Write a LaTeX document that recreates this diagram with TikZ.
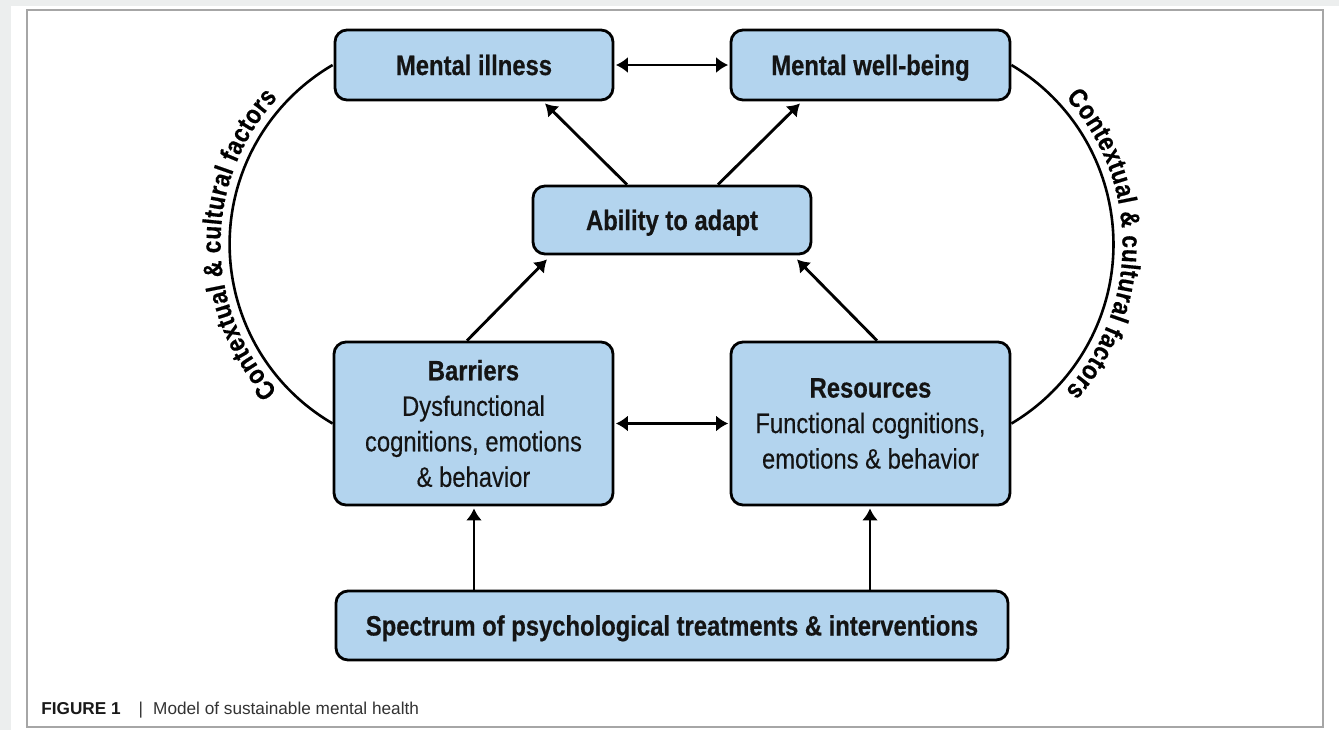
\documentclass[tikz,border=0pt]{standalone}
\usepackage{fontspec}
\setmainfont{Liberation Sans}[FakeStretch=0.85,
  UprightFeatures={FakeBold=0.25}, BoldFeatures={FakeBold=0.5}]
\newfontfamily\capfont{Liberation Sans}
\usetikzlibrary{arrows.meta,calc,decorations.text}
\definecolor{boxblue}{RGB}{179,212,238}
\definecolor{pagegray}{RGB}{236,238,238}
\definecolor{framegray}{RGB}{166,166,166}
\newcommand\arcfont{\fontsize{13.3}{15}\selectfont\bfseries}
\begin{document}
\begin{tikzpicture}[x=0.5pt,y=0.5pt,
  box/.style={draw=black, line width=1.4pt, fill=boxblue, rounded corners=6pt,
    inner sep=0pt, text=black!92, align=center, font=\fontsize{14}{17.75}\selectfont},
  oneline/.style={text height=10pt, text depth=0pt, font=\fontsize{14}{17.75}\selectfont\bfseries},
  hd/.tip={Latex[length=6pt,width=8pt]},
  link/.style={line width=1.45pt, -hd},
  both/.style={line width=1.45pt, hd-hd},
  arcline/.style={line width=1.3pt},
  arctext/.style={decorate, decoration={text along path,
    text={|\arcfont|Contextual {\&} cultural factors}, text align=center, raise=4.5pt}}
]
% page and panel
\fill[pagegray] (0,0) rectangle (1339,-730);
\fill[white] (11,-6) rectangle (1339,-730);
\draw[framegray, line width=0.8pt, fill=white] (27,-10) rectangle (1323,-727);
\useasboundingbox (0,0) rectangle (1339,-730);

% boxes
\node[box, oneline, minimum width=139pt, minimum height=35pt] (ill) at (474,-65) {Mental illness};
\node[box, oneline, minimum width=139.5pt, minimum height=35pt] (mwb) at (870.5,-65) {Mental well-being};
\node[box, oneline, minimum width=139pt, minimum height=34pt] (abl) at (672,-220) {Ability to adapt};
\node[box, minimum width=139.5pt, minimum height=81.5pt] (bar) at (473.5,-423.5)
  {\textbf{Barriers}\\Dysfunctional\\cognitions, emotions\\\& behavior};
\node[box, minimum width=139.5pt, minimum height=81.5pt] (res) at (870.5,-423.5)
  {\textbf{Resources}\\Functional cognitions,\\emotions \& behavior};
\node[box, oneline, minimum width=336pt, minimum height=34.5pt] (spc) at (672,-625.5)
  {Spectrum of psychological treatments \& interventions};

% connectors
\draw[both, shorten <=0.7pt, shorten >=0.7pt] (ill.east) -- (mwb.west);
\draw[both, shorten <=0.7pt, shorten >=0.7pt] (bar.east) -- (res.west);
\draw[link] ($(abl.north)+(-45,0)$) -- ($(ill.south)+(71,-2)$);
\draw[link] ($(abl.north)+(46,0)$) -- ($(mwb.south)+(-70.5,-2)$);
\draw[link] ($(bar.north)+(-6.5,0)$) -- ($(abl.south)+(-125,-4)$);
\draw[link] ($(res.north)+(6.5,0)$) -- ($(abl.south)+(125,-4)$);
\draw[link] ($(spc.north)+(-198,0)$) -- ($(bar.south)+(0.5,-2)$);
\draw[link] ($(spc.north)+(198,0)$) -- ($(res.south)+(-0.5,-2)$);

% contextual arcs with their labels
\draw[arcline] (bar.west) arc[start angle=239.75, end angle=120.25, radius=207.5];
\path[arctext] (bar.west) arc[start angle=239.75, end angle=120.25, radius=207.5];
\draw[arcline] (mwb.east) arc[start angle=59.3, end angle=-59.3, radius=208.5];
\path[arctext] (mwb.east) arc[start angle=59.3, end angle=-59.3, radius=208.5];

% caption
\node[anchor=base west, inner sep=0pt, text=black!80,
  font=\capfont\fontsize{8.6}{10}\selectfont] (cap) at (41,-714)
  {\textbf{\color{black!90}FIGURE 1}\hspace{9pt}|\hspace{5pt}Model of sustainable mental health};
\end{tikzpicture}
\end{document}
